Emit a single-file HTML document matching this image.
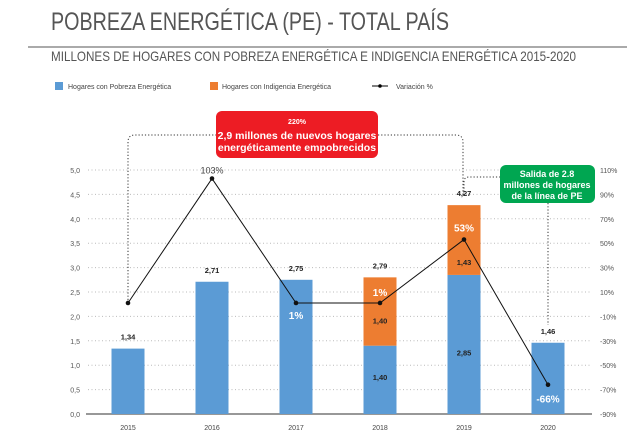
<!DOCTYPE html>
<html><head><meta charset="utf-8"><style>
body{margin:0;background:#fff;width:640px;height:438px;overflow:hidden;font-family:"Liberation Sans",sans-serif;}
</style></head><body>
<svg width="640" height="438" font-family="Liberation Sans, sans-serif">
<text x="51" y="30" font-size="25" fill="#555" textLength="398" lengthAdjust="spacingAndGlyphs">POBREZA ENERGÉTICA (PE) - TOTAL PAÍS</text>
<line x1="28" y1="47" x2="627" y2="47" stroke="#777" stroke-width="1.2"/>
<text x="51" y="61" font-size="14" fill="#555" textLength="525" lengthAdjust="spacingAndGlyphs">MILLONES DE HOGARES CON POBREZA ENERGÉTICA E INDIGENCIA ENERGÉTICA 2015-2020</text>
<g font-size="7" fill="#444">
<rect x="55" y="82" width="8" height="8" fill="#5b9bd5"/><text x="68" y="89">Hogares con Pobreza Energética</text>
<rect x="210" y="82" width="8" height="8" fill="#ed7d31"/><text x="222" y="89">Hogares con Indigencia Energética</text>
<line x1="372" y1="86" x2="388" y2="86" stroke="#000"/><circle cx="380" cy="86" r="1.8" fill="#000"/><text x="396" y="89">Variación %</text>
</g>
<g id="grid"></g><g id="bars"></g><g id="line"></g><g id="labels"></g>
<g>
<path d="M128 300 V142 Q128 135 135 135 H216 M378 135 H456 Q463 135 463 142 V195" fill="none" stroke="#333" stroke-width="1" stroke-dasharray="1.2 2"/>
<path d="M464 195 V182 Q464 177 469 177 H500 M548 203 V325" fill="none" stroke="#333" stroke-width="1" stroke-dasharray="1.2 2"/>
<rect x="216" y="111" width="162" height="47" rx="6" fill="#ed1c24"/>
<text x="297" y="124" font-size="7" font-weight="bold" fill="#fff" text-anchor="middle">220%</text>
<text x="297" y="139" font-size="10.5" font-weight="bold" fill="#fff" text-anchor="middle">2,9 millones de nuevos hogares</text>
<text x="297" y="151" font-size="10.5" font-weight="bold" fill="#fff" text-anchor="middle">energéticamente empobrecidos</text>
<rect x="500" y="165" width="95" height="38" rx="6" fill="#00a651"/>
<text x="547" y="177" font-size="9" font-weight="bold" fill="#fff" text-anchor="middle">Salida de 2.8</text>
<text x="547" y="188" font-size="9" font-weight="bold" fill="#fff" text-anchor="middle">millones de hogares</text>
<text x="547" y="199" font-size="9" font-weight="bold" fill="#fff" text-anchor="middle">de la línea de PE</text>
</g>
</svg>
<script>
const years=['2015','2016','2017','2018','2019','2020'];
const pobreza=[1.34,2.71,2.75,1.40,2.85,1.46];
const indigencia=[0,0,0,1.40,1.43,0];
const totals=['1,34','2,71','2,75','2,79','4,27','1,46'];
const variacion=[1,103,1,1,53,-66];
const varLabels=['','103%','1%','1%','53%','-66%'];
const leftTicks=['0,0','0,5','1,0','1,5','2,0','2,5','3,0','3,5','4,0','4,5','5,0'];
const rightTicks=['-90%','-70%','-50%','-30%','-10%','10%','30%','50%','70%','90%','110%'];
const NS='http://www.w3.org/2000/svg';
const y0=414,y5=170;
const yL=v=>y0-(v/5)*(y0-y5);
const yR=v=>y0-((v+90)/200)*(y0-y5);
const xC=i=>128+i*84;
const bw=33;
function mk(p,t,a){const e=document.createElementNS(NS,t);for(const k in a)e.setAttribute(k,a[k]);document.getElementById(p).appendChild(e);return e;}
leftTicks.forEach((t,i)=>{const y=yL(i*0.5);
 if(i>0){const l=mk('grid','line',{x1:88,x2:592,y1:y,y2:y,stroke:'#bbb','stroke-dasharray':'1 2.5'});}
 const a=mk('grid','text',{x:80,y:y+3,'font-size':7,fill:'#555','text-anchor':'end'});a.textContent=t;
 const b=mk('grid','text',{x:600,y:yR(-90+i*20)+3,'font-size':7,fill:'#555'});b.textContent=rightTicks[i];});
const ax=mk('grid','line',{x1:86,x2:592,y1:y0,y2:y0,stroke:'#777','stroke-width':1.5});
years.forEach((yr,i)=>{const x=xC(i);
 const b=mk('bars','rect',{x:x-bw/2,y:yL(pobreza[i]),width:bw,height:y0-yL(pobreza[i]),fill:'#5b9bd5'});
 if(indigencia[i]>0){const t=pobreza[i]+indigencia[i];const o=mk('bars','rect',{x:x-bw/2,y:yL(t),width:bw,height:yL(pobreza[i])-yL(t),fill:'#ed7d31'});
  const ol=mk('labels','text',{x:x,y:(yL(pobreza[i])+yL(t))/2+(i==4?25:12),'font-size':7.5,'font-weight':'bold',fill:'#222','text-anchor':'middle'});ol.textContent=indigencia[i].toFixed(2).replace('.',',');
  const pl=mk('labels','text',{x:x,y:(y0+yL(pobreza[i]))/2+(i==4?11:0),'font-size':7.5,'font-weight':'bold',fill:'#222','text-anchor':'middle'});pl.textContent=pobreza[i].toFixed(2).replace('.',',');}
 const tot=pobreza[i]+indigencia[i];
 const tl=mk('labels','text',{x:x,y:yL(tot)-9,'font-size':7.5,'font-weight':'bold',fill:'#222','text-anchor':'middle'});tl.textContent=totals[i];
 const xl=mk('labels','text',{x:x,y:430,'font-size':7,fill:'#444','text-anchor':'middle'});xl.textContent=yr;});
const pl=mk('line','polyline',{points:variacion.map((v,i)=>xC(i)+','+yR(v)).join(' '),fill:'none',stroke:'#111','stroke-width':1});
variacion.forEach((v,i)=>{const c=mk('line','circle',{cx:xC(i),cy:yR(v),r:2.3,fill:'#111'});
 if(!varLabels[i])return;
 let ly,col='#fff',fs=10,fw='bold';
 if(i==1){ly=yR(v)-5;col='#444';fw='normal';fs=9;}
 else if(i==2){ly=yR(v)+16;}else if(i==3){ly=yR(v)-7;}else if(i==4){ly=yR(v)-8;}else{ly=yR(v)+18;}
 const t=mk('labels','text',{x:xC(i),y:ly,'font-size':fs,'font-weight':fw,fill:col,'text-anchor':'middle'});t.textContent=varLabels[i];});
</script>
</body></html>
